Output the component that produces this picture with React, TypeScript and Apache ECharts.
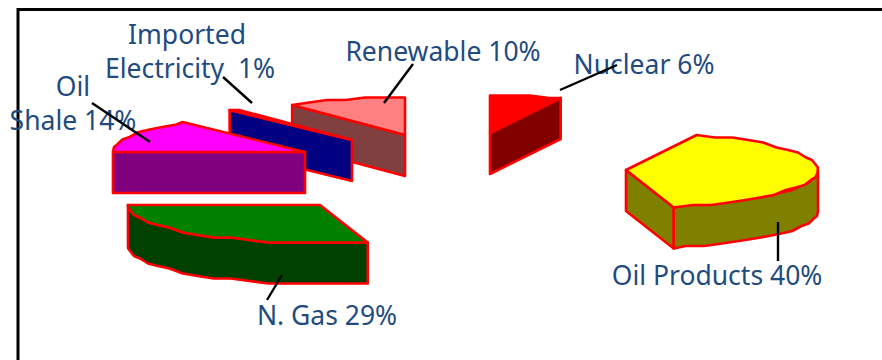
import React, { useEffect, useRef } from "react";
import * as echarts from "echarts";

// Primary energy mix, percent by source, clockwise from twelve o'clock.
const categories = ["Nuclear", "Oil Products", "N. Gas", "Oil Shale", "Imported Electricity", "Renewable"];
const values = [6, 40, 29, 14, 1, 10];

// Painter's order for the exploded slices, back to front.
const paintOrder = [5, 4, 3, 0, 2, 1];

const topColors = ["#ff0000", "#ffff00", "#008000", "#ff00ff", "#0000ff", "#ff8080"];
const sideColors = ["#800000", "#808000", "#004000", "#800080", "#000080", "#804040"];

// Where each exploded slice's tip sits on the page.
const sliceTips = [[490, 133], [626, 170], [320, 205], [305, 152], [352, 140], [405, 135]];

const RADIUS_X = 192;
const RADIUS_Y = 38;
const DEPTH = 41;
const ARC_STEP = 6;
const Y_SNAP = 2.5;

const rad = (deg: number) => (deg * Math.PI) / 180;

function rim(tip: number[], deg: number, drop = 0) {
  const y = -Math.cos(rad(deg)) * RADIUS_Y;
  return [
    tip[0] + Math.sin(rad(deg)) * RADIUS_X,
    tip[1] + Math.round(y / Y_SNAP) * Y_SNAP + drop,
  ];
}

function arcAngles(from: number, to: number) {
  const out: number[] = [];
  for (let a = from; a < to; a += ARC_STEP) out.push(a);
  out.push(to);
  return out;
}

function renderSlice(_params: any, api: any) {
  const index = api.value(0);
  const total = values.reduce((s, v) => s + v, 0);
  const start = (values.slice(0, index).reduce((s, v) => s + v, 0) / total) * 360;
  const end = start + (api.value(1) / total) * 360;
  const tip = sliceTips[index];
  const below = (p: number[]) => [p[0], p[1] + DEPTH];

  const side = (points: number[][]) => ({
    type: "polygon",
    shape: { points },
    style: { fill: sideColors[index], stroke: "#ff0000", lineWidth: 2.6, lineJoin: "round" },
  });

  const children: any[] = [];
  // A wall is drawn only when its outward face turns towards the viewer.
  if (Math.cos(rad(start - 90)) < -1e-6) {
    const edge = rim(tip, start);
    children.push(side([tip, edge, below(edge), below(tip)]));
  }
  if (Math.cos(rad(end + 90)) < -1e-6) {
    const edge = rim(tip, end);
    children.push(side([tip, edge, below(edge), below(tip)]));
  }
  const frontFrom = Math.max(start, 90);
  const frontTo = Math.min(end, 270);
  if (frontFrom < frontTo) {
    const upper = arcAngles(frontFrom, frontTo).map((a) => rim(tip, a));
    children.push(side([...upper, ...upper.map(below).reverse()]));
  }
  children.push({
    type: "polygon",
    shape: { points: [tip, ...arcAngles(start, end).map((a) => rim(tip, a))] },
    style: { fill: topColors[index], stroke: "#ff0000", lineWidth: 2.6, lineJoin: "round" },
  });
  return { type: "group", children };
}

const LABEL_COLOR = "#1f4b80";
const labelTexts = [
  { text: "Imported", x: 187, y: 34 },
  { text: "Electricity  1%", x: 190, y: 68 },
  { text: "Oil", x: 73, y: 86 },
  { text: "Shale 14%", x: 73, y: 120 },
  { text: "Renewable 10%", x: 443, y: 51 },
  { text: "Nuclear 6%", x: 644, y: 64 },
  { text: "Oil Products 40%", x: 717, y: 275 },
  { text: "N. Gas 29%", x: 327, y: 315 },
];
const leaders = [
  [92, 103, 150, 142],
  [223, 77, 252, 103],
  [413, 64, 384, 103],
  [617, 65, 560, 90],
  [778, 222, 778, 261],
  [282, 275, 267, 300],
];

export default function App() {
  const ref = useRef<HTMLDivElement>(null);
  useEffect(() => {
    document.body.style.margin = "0";
    const chart = echarts.init(ref.current!, null, { renderer: "svg" });
    chart.setOption({
      animation: false,
      backgroundColor: "#ffffff",
      series: [
        {
          type: "custom",
          coordinateSystem: "none",
          renderItem: renderSlice,
          data: paintOrder.map((i) => ({ name: categories[i], value: [i, values[i]] })),
          silent: true,
          z: 2,
        },
      ],
      graphic: [
        { type: "line", z: 1, shape: { x1: 18, y1: 9.5, x2: 882, y2: 9.5 }, style: { stroke: "#000", lineWidth: 3 } },
        { type: "line", z: 1, shape: { x1: 18, y1: 8, x2: 18, y2: 360 }, style: { stroke: "#000", lineWidth: 3 } },
        ...labelTexts.map((l) => ({
          type: "text",
          z: 5,
          x: l.x,
          y: l.y,
          style: {
            text: l.text,
            fill: LABEL_COLOR,
            font: '26.5px "Noto Sans", sans-serif',
            textAlign: "center",
            textVerticalAlign: "middle",
          },
        })),
        ...leaders.map((s) => ({
          type: "line",
          z: 6,
          shape: { x1: s[0], y1: s[1], x2: s[2], y2: s[3] },
          style: { stroke: "#000", lineWidth: 2.4 },
        })),
      ],
    });
    return () => chart.dispose();
  }, []);
  return <div ref={ref} style={{ width: 882, height: 360 }} />;
}
